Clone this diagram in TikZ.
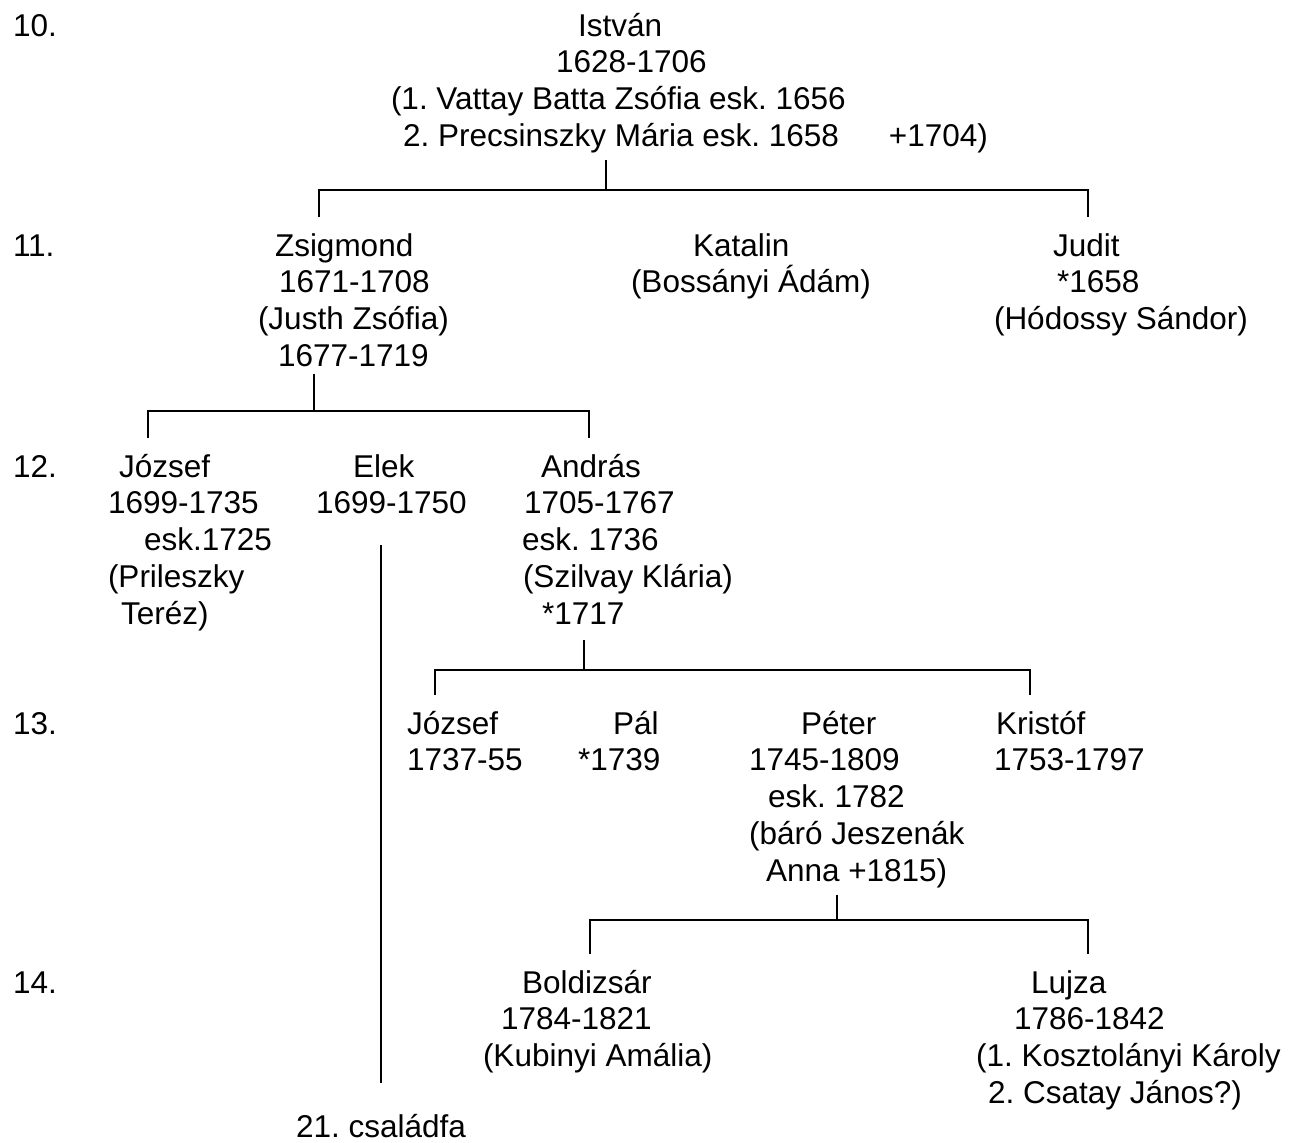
\documentclass[tikz,border=0pt]{standalone}
\usepackage{fontspec}
\setmainfont{Liberation Sans}
\setlength{\unitlength}{0.5pt}
\newcommand{\ind}[1]{\hspace*{#1\unitlength}}

\begin{document}
\frenchspacing
\begin{tikzpicture}[x=0.5pt, y=-0.5pt, line width=1pt,
  txt/.style={anchor=base west, align=left, inner sep=0pt, font=\fontsize{15.75}{18.375}\selectfont},
  up/.style={shorten <=3pt},
  bar/.style={shorten <=7.5pt, shorten >=7.5pt}]
\useasboundingbox (0,0) rectangle (1300,1142);

\node[txt] (g10) at (12,36) {10.};
\node[txt] (g11) at (12,256) {11.};
\node[txt] (g12) at (12,477) {12.};
\node[txt] (g13) at (12,734) {13.};
\node[txt] (g14) at (12,993) {14.};

\node[txt] (istvan) at (390,146.25) {\ind{187}István\\\ind{165}1628-1706\\(1. Vattay Batta Zsófia esk. 1656\\\ind{12}2. Precsinszky Mária esk. 1658\hspace{50\unitlength}+1704)};

\node[txt] (zsig) at (257,366.25) {\ind{17}Zsigmond\\\ind{21}1671-1708\\(Justh Zsófia)\\\ind{20}1677-1719};
\node[txt] (kata) at (630,292.75) {\ind{62}Katalin\\(Bossányi Ádám)};
\node[txt] (judit) at (993,329.5) {\ind{59}Judit\\\ind{63}*1658\\(Hódossy Sándor)};

\node[txt] (jozs) at (107,624) {\ind{11}József\\1699-1735\\\ind{36}esk.1725\\(Prileszky\\\ind{13}Teréz)};
\node[txt] (elek) at (315,513.75) {\ind{37}Elek\\1699-1750};
\node[txt] (andr) at (521,624) {\ind{19}András\\\ind{2}1705-1767\\esk. 1736\\\ind{1}(Szilvay Klária)\\\ind{20}*1717};

\node[txt] (jozs2) at (406,770.75) {József\\1737-55};
\node[txt] (pal) at (577,770.75) {\ind{35}Pál\\*1739};
\node[txt] (peter) at (748,881) {\ind{52}Péter\\1745-1809\\\ind{19}esk. 1782\\(báró Jeszenák\\\ind{17}Anna +1815)};
\node[txt] (krist) at (993,770.75) {\ind{2}Kristóf\\1753-1797};

\node[txt] (boldi) at (482,1066.5) {\ind{39}Boldizsár\\\ind{18}1784-1821\\(Kubinyi Amália)};
\node[txt] (lujza) at (975,1103.25) {\ind{55}Lujza\\\ind{38}1786-1842\\(1. Kosztolányi Károly\\\ind{12}2. Csatay János?)};

\node[txt] (ref21) at (295,1137) {21. családfa};

\coordinate (j10) at (606,190);
\coordinate (j10l) at (319,190);
\coordinate (j10r) at (1088,190);
\draw[up] (j10 |- istvan.south) -- (j10);
\draw[bar] (j10l |- zsig.north) -- (j10l) -- (j10r) -- (j10r |- judit.north);

\coordinate (j11) at (314,411);
\coordinate (j11l) at (148,411);
\coordinate (j11r) at (589,411);
\draw[up] (j11 |- zsig.south) -- (j11);
\draw[bar] (j11l |- jozs.north) -- (j11l) -- (j11r) -- (j11r |- andr.north);

\coordinate (j12) at (584,670);
\coordinate (j12l) at (435,670);
\coordinate (j12r) at (1030,670);
\draw[shorten <=7.5pt] (j12 |- andr.south) -- (j12);
\draw[bar] (j12l |- jozs2.north) -- (j12l) -- (j12r) -- (j12r |- krist.north);

\coordinate (j13) at (837,920);
\coordinate (j13l) at (590,920);
\coordinate (j13r) at (1088,920);
\draw[up] (j13 |- peter.south) -- (j13);
\draw[bar] (j13l |- boldi.north) -- (j13l) -- (j13r) -- (j13r |- lujza.north);

\draw[shorten <=15pt, shorten >=15pt] (elek.south -| ref21.north) -- (ref21.north);

\end{tikzpicture}
\end{document}
